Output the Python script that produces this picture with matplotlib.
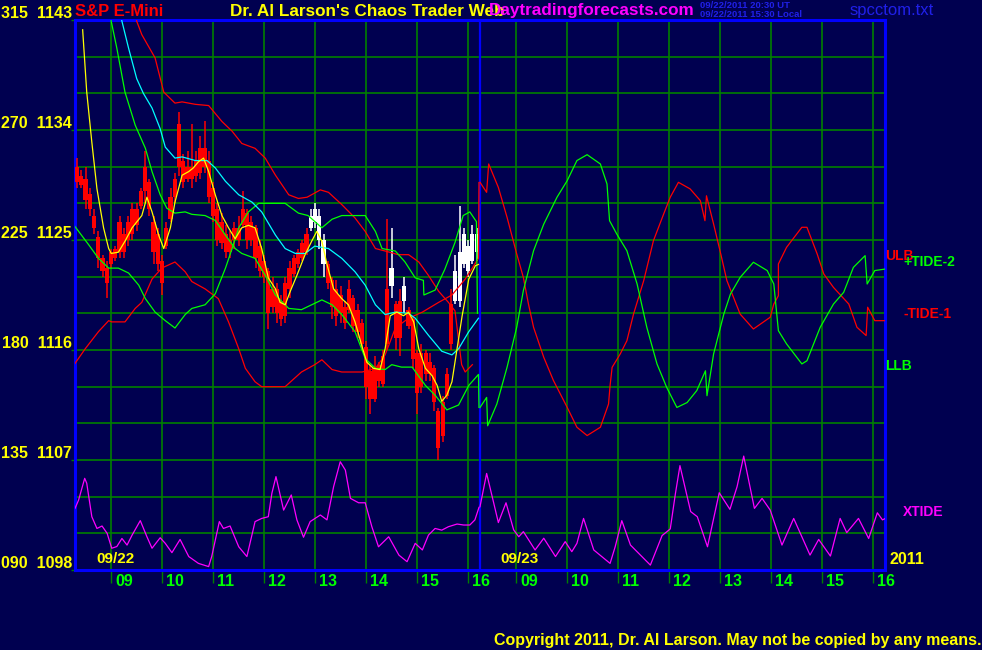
import matplotlib.pyplot as plt
import numpy as np

plt.rcParams['font.family'] = ['Liberation Sans', 'DejaVu Sans']

# ---- chart data -------------------------------------------------------
# 5 minute bars of day 1 (09/22), first bar at 8:20
bar_high = [1131.75, 1130.75, 1131.0, 1129.25, 1127.5, 1125.75, 1123.75, 1123.25, 1124.25, 1124.5,
            1127.0, 1126.0, 1127.0, 1128.0, 1128.0, 1129.25, 1132.25, 1130.0, 1127.0, 1126.0,
            1123.75, 1126.5, 1129.25, 1130.5, 1135.5, 1132.0, 1132.25, 1134.5, 1132.25, 1133.5,
            1134.75, 1132.25, 1129.75, 1128.0, 1127.25, 1126.25, 1125.75, 1126.5, 1127.0, 1129.0,
            1127.5, 1127.0, 1126.25, 1125.0, 1123.75, 1122.75, 1122.0, 1121.5, 1120.5, 1122.0,
            1123.25, 1123.75, 1124.25, 1125.0, 1126.0, 1127.5, 1128.0, 1127.5, 1125.5, 1123.25,
            1122.0, 1121.75, 1121.25, 1120.0, 1121.75, 1120.5, 1119.75, 1118.5, 1116.75, 1114.75,
            1115.5, 1115.0, 1116.0, 1126.75, 1126.0, 1120.0, 1121.0, 1122.0, 1119.5, 1118.75,
            1116.0, 1116.5, 1116.0, 1115.75, 1114.75, 1111.25, 1112.25, 1114.5, 1121.0, 1123.75,
            1127.75, 1126.0, 1125.0, 1126.25, 1126.0]
bar_low = [1129.25, 1129.25, 1127.5, 1127.0, 1125.5, 1122.75, 1122.0, 1120.25, 1122.75, 1123.25,
           1123.5, 1123.5, 1124.5, 1125.0, 1125.75, 1127.5, 1128.0, 1127.0, 1123.0, 1122.5,
           1120.5, 1124.25, 1126.5, 1128.0, 1130.25, 1129.25, 1129.75, 1129.25, 1129.75, 1130.0,
           1130.5, 1128.0, 1126.5, 1124.5, 1124.25, 1123.5, 1123.5, 1124.25, 1124.5, 1126.0,
           1124.25, 1124.5, 1122.75, 1122.0, 1121.5, 1117.75, 1119.0, 1118.25, 1118.0, 1118.25,
           1120.25, 1122.0, 1122.75, 1123.25, 1123.75, 1125.75, 1126.0, 1124.25, 1122.0, 1121.0,
           1118.5, 1118.0, 1118.25, 1117.75, 1119.0, 1117.5, 1117.0, 1116.0, 1112.0, 1110.75,
           1111.75, 1113.0, 1113.0, 1116.0, 1120.25, 1116.0, 1115.5, 1119.0, 1117.75, 1114.5,
           1110.75, 1112.5, 1113.5, 1113.5, 1111.0, 1107.0, 1108.5, 1112.0, 1116.0, 1119.75,
           1119.5, 1122.75, 1122.0, 1123.0, 1123.25]
bar_open = [1131.0, 1130.25, 1130.0, 1128.75, 1127.0, 1125.25, 1123.5, 1122.75, 1123.0, 1123.5,
            1124.0, 1125.5, 1125.0, 1125.5, 1127.5, 1127.75, 1129.0, 1129.75, 1126.5, 1125.5,
            1123.25, 1124.5, 1126.75, 1128.5, 1134.5, 1131.5, 1130.0, 1131.0, 1130.25, 1130.5,
            1132.5, 1131.5, 1129.25, 1127.5, 1126.5, 1125.5, 1124.0, 1125.0, 1126.0, 1126.25,
            1127.25, 1125.0, 1126.0, 1124.5, 1123.25, 1122.5, 1121.0, 1121.0, 1120.0, 1118.75,
            1121.0, 1122.25, 1123.0, 1123.5, 1124.0, 1126.0, 1126.5, 1127.0, 1125.0, 1123.0,
            1121.75, 1121.0, 1120.5, 1119.5, 1119.25, 1120.25, 1119.25, 1118.25, 1116.25, 1114.25,
            1112.0, 1113.5, 1113.25, 1116.5, 1121.25, 1119.75, 1117.0, 1120.0, 1119.25, 1118.5,
            1115.75, 1113.0, 1115.75, 1114.0, 1114.5, 1111.0, 1109.0, 1112.25, 1116.5, 1120.0,
            1120.0, 1123.0, 1124.5, 1123.25, 1125.5]
bar_close = [1129.75, 1129.5, 1128.25, 1127.5, 1126.0, 1123.5, 1122.5, 1121.5, 1124.0, 1124.25,
             1126.5, 1124.0, 1126.5, 1127.5, 1126.25, 1129.0, 1131.0, 1127.5, 1124.0, 1123.0,
             1121.5, 1126.0, 1128.5, 1130.0, 1131.0, 1129.75, 1131.0, 1130.0, 1131.5, 1132.5,
             1131.0, 1128.5, 1127.0, 1125.0, 1124.75, 1124.0, 1125.0, 1126.0, 1125.0, 1127.5,
             1125.0, 1126.5, 1123.5, 1122.5, 1122.0, 1119.0, 1119.5, 1119.0, 1118.5, 1121.5,
             1122.75, 1123.5, 1124.0, 1124.75, 1125.5, 1127.0, 1127.5, 1125.0, 1123.0, 1121.5,
             1119.5, 1118.75, 1119.0, 1118.25, 1121.0, 1118.0, 1117.5, 1116.5, 1113.0, 1112.0,
             1114.5, 1114.75, 1115.5, 1121.0, 1122.75, 1117.0, 1120.0, 1121.25, 1118.0, 1115.25,
             1112.5, 1115.75, 1114.0, 1115.0, 1111.75, 1108.0, 1111.75, 1114.0, 1119.75, 1122.5,
             1124.0, 1125.5, 1122.5, 1125.5, 1124.0]
white_bars = [55, 56, 57, 58, 74, 77, 89, 90, 91, 92, 93, 94]

# day 1 indicator lines: (clock hour, price)
yellow_ma = [(8.44, 1142.2), (8.52, 1137.1), (8.62, 1133.0), (8.72, 1129.2), (8.85, 1126.0),
             (8.95, 1124.3), (9.0, 1123.9), (9.14, 1124.0), (9.27, 1124.9), (9.41, 1126.0),
             (9.6, 1127.0), (9.7, 1128.5), (9.8, 1127.3), (9.93, 1125.4), (10.03, 1124.3),
             (10.16, 1126.0), (10.25, 1128.1), (10.39, 1130.3), (10.52, 1130.6), (10.61, 1130.9),
             (10.71, 1131.4), (10.81, 1131.7), (10.91, 1130.6), (11.04, 1128.7), (11.17, 1127.0),
             (11.3, 1126.0), (11.43, 1125.1), (11.56, 1126.0), (11.69, 1126.2), (11.82, 1126.0),
             (11.95, 1124.3), (12.08, 1121.9), (12.22, 1121.0), (12.31, 1119.9), (12.41, 1119.7),
             (12.51, 1120.8), (12.64, 1122.1), (12.8, 1123.8), (12.93, 1124.9), (13.03, 1125.7),
             (13.13, 1124.9), (13.23, 1123.0), (13.36, 1121.0), (13.52, 1120.2), (13.65, 1119.7),
             (13.78, 1118.3), (13.91, 1116.4), (14.01, 1115.0), (14.14, 1114.5), (14.27, 1114.4),
             (14.37, 1116.1), (14.47, 1118.8), (14.6, 1119.1), (14.73, 1118.8), (14.83, 1119.1),
             (14.93, 1118.3), (15.03, 1116.1), (15.16, 1114.5), (15.29, 1113.9), (15.39, 1113.1),
             (15.48, 1111.8), (15.58, 1112.3), (15.68, 1113.4), (15.78, 1116.1), (15.88, 1118.8),
             (16.01, 1121.8), (16.14, 1122.9), (16.2, 1123.0)]
cyan_ma = [(9.1, 1145.0), (9.21, 1142.9), (9.34, 1140.7), (9.5, 1138.2), (9.63, 1137.0),
           (9.8, 1135.8), (9.96, 1134.1), (10.06, 1132.6), (10.25, 1131.7), (10.39, 1131.8),
           (10.65, 1131.5), (10.88, 1131.5), (11.04, 1130.9), (11.24, 1129.8), (11.5, 1128.7),
           (11.76, 1128.1), (11.95, 1127.3), (12.22, 1125.4), (12.41, 1124.3), (12.61, 1123.9),
           (12.8, 1123.9), (12.99, 1124.5), (13.26, 1124.3), (13.52, 1123.5), (13.78, 1122.4),
           (13.98, 1121.3), (14.18, 1119.7), (14.37, 1118.9), (14.57, 1119.1), (14.83, 1119.0),
           (14.96, 1118.6), (15.22, 1117.2), (15.48, 1115.9), (15.68, 1115.6), (15.81, 1116.1),
           (16.01, 1117.5), (16.2, 1118.6)]
red_upper = [(9.4, 1145.5), (9.5, 1142.9), (9.6, 1141.8), (9.86, 1139.9), (10.03, 1137.1),
             (10.25, 1136.2), (10.39, 1136.3), (10.65, 1136.1), (10.91, 1136.0), (11.17, 1134.7),
             (11.37, 1133.9), (11.56, 1132.9), (11.82, 1132.5), (12.02, 1131.7), (12.22, 1130.3),
             (12.48, 1128.7), (12.67, 1128.4), (12.84, 1128.5), (13.1, 1129.1), (13.26, 1128.9),
             (13.52, 1127.9), (13.78, 1126.8), (13.98, 1125.7), (14.18, 1124.3), (14.37, 1124.1),
             (14.63, 1123.8), (14.83, 1123.8), (15.03, 1123.2), (15.22, 1122.1), (15.42, 1120.8),
             (15.61, 1119.9), (15.74, 1119.2), (15.87, 1114.8), (15.94, 1114.2), (16.08, 1114.8)]
red_lower = [(8.29, 1114.9), (8.49, 1116.1), (8.75, 1117.5), (8.95, 1118.4), (9.01, 1118.3),
             (9.27, 1118.3), (9.47, 1119.4), (9.6, 1119.9), (9.8, 1121.8), (9.99, 1122.7),
             (10.25, 1123.2), (10.45, 1122.4), (10.58, 1121.6), (10.84, 1121.0), (11.1, 1120.2),
             (11.3, 1118.3), (11.5, 1116.1), (11.63, 1114.5), (11.82, 1113.4), (11.95, 1113.0),
             (12.41, 1113.0), (12.73, 1114.2), (12.99, 1114.8), (13.13, 1115.2), (13.33, 1114.4),
             (13.52, 1114.2), (13.92, 1114.2), (14.18, 1114.5), (14.37, 1115.6), (14.57, 1117.8),
             (14.83, 1118.6), (15.1, 1119.1), (15.42, 1119.9), (15.68, 1120.5), (15.94, 1121.8),
             (16.2, 1123.5), (16.21, 1129.7)]
green_upper = [(8.9, 1145.0), (9.0, 1142.9), (9.11, 1140.7), (9.27, 1137.1), (9.47, 1134.4),
               (9.67, 1132.5), (9.8, 1130.6), (9.96, 1128.7), (10.09, 1127.6), (10.25, 1127.2),
               (10.45, 1127.3), (10.58, 1127.1), (10.84, 1127.0), (11.04, 1126.6), (11.24, 1125.4),
               (11.43, 1124.3), (11.56, 1123.9), (11.82, 1123.5), (12.02, 1122.1), (12.22, 1120.5),
               (12.48, 1119.4), (12.73, 1119.3), (12.93, 1119.7), (13.13, 1120.1), (13.33, 1119.7),
               (13.52, 1118.9), (13.78, 1117.5), (13.98, 1115.3), (14.18, 1114.5), (14.37, 1114.4),
               (14.5, 1114.8), (14.69, 1114.6), (14.9, 1114.6), (15.16, 1113.1), (15.35, 1112.3),
               (15.58, 1111.1), (15.81, 1111.5), (16.01, 1113.1), (16.2, 1114.0), (16.21, 1111.3)]
green_lower = [(8.29, 1126.1), (8.56, 1124.6), (8.75, 1123.5), (8.95, 1122.7), (9.14, 1122.7),
               (9.34, 1122.3), (9.54, 1121.3), (9.67, 1120.2), (9.86, 1119.1), (10.06, 1118.4),
               (10.25, 1117.8), (10.45, 1118.9), (10.58, 1119.4), (10.84, 1119.7), (11.04, 1120.6),
               (11.24, 1122.7), (11.37, 1124.3), (11.5, 1126.0), (11.69, 1127.3), (11.89, 1128.0),
               (12.41, 1128.0), (12.67, 1127.2), (12.86, 1127.0), (13.13, 1126.0), (13.33, 1126.7),
               (13.52, 1127.0), (13.98, 1127.0), (14.18, 1125.7), (14.31, 1124.3), (14.57, 1124.1),
               (14.76, 1123.2), (14.96, 1121.9), (15.12, 1121.7), (15.13, 1120.5), (15.35, 1120.9),
               (15.54, 1122.6), (15.74, 1124.8), (15.9, 1127.0), (16.03, 1127.3), (16.16, 1126.5),
               (16.18, 1119.0)]

# day 2 (09/23) tide forecasts, left scale units: (clock hour, value)
tide_minus1 = [(8.29, 248.6), (8.42, 244.5), (8.46, 256.1), (8.65, 246.5), (8.82, 234.3),
               (9.01, 219.3), (9.14, 209.7), (9.24, 198.8), (9.34, 189.3), (9.54, 177.0),
               (9.73, 167.5), (10.0, 156.5), (10.19, 148.4), (10.39, 145.0), (10.65, 148.4),
               (10.81, 157.9), (10.84, 165.4), (10.88, 172.9), (11.04, 178.4), (11.17, 183.8),
               (11.3, 194.7), (11.5, 208.4), (11.69, 224.7), (11.89, 235.6), (12.02, 242.5),
               (12.18, 248.6), (12.41, 245.9), (12.61, 241.1), (12.7, 232.9), (12.73, 243.1),
               (12.87, 231.5), (13.01, 219.3), (13.13, 208.4), (13.39, 194.7), (13.65, 188.6),
               (13.98, 193.4), (14.05, 198.8), (14.14, 202.2), (14.14, 215.2), (14.3, 222.0),
               (14.6, 230.2), (14.7, 230.2), (14.9, 219.3), (15.03, 211.1), (15.22, 205.6),
               (15.52, 198.8), (15.68, 189.3), (15.86, 185.9), (15.89, 197.5), (16.03, 192.0),
               (16.23, 192.0)]
tide_plus2 = [(8.29, 156.5), (8.42, 160.6), (8.44, 149.0), (8.62, 157.9), (8.82, 172.9),
              (9.01, 189.3), (9.14, 204.3), (9.34, 220.6), (9.54, 231.5), (9.8, 242.5),
              (10.0, 249.3), (10.19, 257.5), (10.39, 259.9), (10.65, 256.1), (10.78, 247.9),
              (10.83, 232.9), (10.97, 227.5), (11.17, 220.6), (11.37, 207.0), (11.56, 189.3),
              (11.76, 174.3), (11.95, 164.7), (12.15, 156.5), (12.35, 158.5), (12.54, 163.4),
              (12.71, 171.5), (12.74, 161.3), (12.87, 178.4), (13.07, 194.7), (13.2, 202.9),
              (13.39, 209.7), (13.65, 215.9), (13.92, 212.5), (14.05, 207.0), (14.14, 187.9),
              (14.3, 182.5), (14.6, 174.3), (14.7, 175.6), (14.96, 189.3), (15.22, 198.8),
              (15.42, 203.6), (15.61, 213.8), (15.84, 218.6), (15.88, 207.0), (16.03, 212.5),
              (16.23, 213.1)]
xtide_day1 = [(8.29, 115.2), (8.36, 118.6), (8.48, 127.5), (8.52, 125.5), (8.62, 111.8),
              (8.72, 107.0), (8.82, 108.0), (8.92, 105.0), (9.01, 98.9), (9.11, 99.6),
              (9.21, 102.9), (9.31, 100.2), (9.41, 104.3), (9.57, 110.2), (9.7, 103.6),
              (9.8, 98.9), (9.96, 103.2), (10.06, 100.9), (10.19, 97.1), (10.35, 102.5),
              (10.52, 95.5), (10.71, 92.7), (10.91, 91.4), (10.97, 95.5), (11.12, 109.8),
              (11.2, 107.0), (11.33, 108.0), (11.5, 99.5), (11.66, 95.5), (11.82, 109.8),
              (11.95, 111.1), (12.08, 111.8), (12.15, 121.4), (12.23, 128.2), (12.38, 114.5),
              (12.53, 120.7), (12.64, 110.5), (12.77, 103.4), (12.9, 109.8), (13.1, 112.5),
              (13.23, 110.5), (13.36, 124.1), (13.49, 134.3), (13.59, 130.9), (13.69, 119.3),
              (13.85, 117.5), (13.98, 117.5), (14.11, 107.7), (14.24, 99.5), (14.44, 103.6),
              (14.64, 96.1), (14.8, 93.4), (14.96, 100.9), (15.1, 98.2), (15.22, 104.3),
              (15.35, 107.0), (15.48, 106.3), (15.61, 107.7), (15.78, 108.8), (15.91, 108.4),
              (16.03, 108.4), (16.13, 110.5), (16.21, 115.6)]
xtide_day2 = [(8.29, 115.9), (8.42, 129.5), (8.56, 117.3), (8.65, 109.4), (8.8, 117.5),
              (8.95, 106.4), (9.05, 103.6), (9.14, 105.7), (9.37, 98.2), (9.54, 103.0),
              (9.77, 95.5), (9.96, 101.6), (10.09, 97.5), (10.19, 100.9), (10.32, 111.1),
              (10.52, 98.2), (10.84, 92.7), (10.94, 99.5), (11.07, 110.2), (11.24, 100.2),
              (11.63, 92.0), (11.86, 104.1), (12.02, 106.8), (12.12, 121.1), (12.21, 132.7),
              (12.42, 113.9), (12.55, 111.8), (12.75, 99.5), (12.98, 121.6), (13.19, 114.8),
              (13.33, 124.1), (13.46, 136.6), (13.67, 115.2), (13.82, 119.3), (13.98, 114.5),
              (14.21, 100.2), (14.44, 111.1), (14.76, 96.1), (14.93, 102.5), (15.16, 95.7),
              (15.35, 111.1), (15.48, 105.3), (15.71, 111.1), (15.91, 102.9), (16.08, 113.4),
              (16.18, 110.5), (16.24, 111.1)]

price_labels = [1098, 1107, 1116, 1125, 1134, 1143]
left_labels = ['090', '135', '180', '225', '270', '315']
hours = [9, 10, 11, 12, 13, 14, 15, 16]

# ---- layout helpers ---------------------------------------------------
SESSION_START = 8.29
DAY_LEN = 7.94
BG = '#000050'
GRID = '#008000'
BLUE = '#0000ff'


def xpos(clock, day=0):
    return np.asarray(clock, dtype=float) - SESSION_START + day * DAY_LEN


def left_to_price(v):
    return 1098 + (np.asarray(v, dtype=float) - 90) / 5.0


def plot_series(ax, pairs, color, day=0, left_scale=False, lw=0.9):
    t, v = zip(*pairs)
    y = left_to_price(v) if left_scale else np.asarray(v)
    ax.plot(xpos(t, day), y, color=color, lw=lw, zorder=4)


W, H = 982, 650
fig = plt.figure(figsize=(W / 100, H / 100), dpi=100, facecolor=BG)
ax = fig.add_axes([75 / W, 80 / H, 810 / W, 550 / H], facecolor=BG)
ax.set_xlim(0, 2 * DAY_LEN)
ax.set_ylim(1098, 1143)

for s in ax.spines.values():
    s.set_color(BLUE)
    s.set_linewidth(2.2)

# grid
for p in range(1101, 1141, 3):
    ax.axhline(p, color=GRID, lw=1.2, zorder=1)
hour_x = [xpos(h, d) for d in (0, 1) for h in hours]
for x in hour_x:
    ax.axvline(x, color=GRID, lw=1.2, zorder=1)
ax.axvline(DAY_LEN, color=BLUE, lw=1.6, zorder=2)

ax.set_xticks(hour_x)
ax.set_yticks(price_labels)
ax.tick_params(axis='x', length=9, width=1, color=GRID, labelbottom=False)
ax.tick_params(axis='y', length=3, width=1, color=GRID, labelleft=False)

# price bars
bar_t = xpos(8.33 + np.arange(len(bar_high)) / 12.0)
cols = ['white' if i in white_bars else 'red' for i in range(len(bar_high))]
ax.vlines(bar_t, bar_low, bar_high, colors=cols, lw=1.1, zorder=3)
bot = np.minimum(bar_open, bar_close)
hgt = np.abs(np.array(bar_open) - np.array(bar_close))
ax.bar(bar_t, hgt, bottom=bot, width=0.082, color=cols, lw=0, zorder=3)

# indicator lines
plot_series(ax, red_upper, 'red')
plot_series(ax, red_lower, 'red')
plot_series(ax, green_upper, '#00ff00')
plot_series(ax, green_lower, '#00ff00')
plot_series(ax, cyan_ma, 'cyan')
plot_series(ax, yellow_ma, 'yellow')
plot_series(ax, tide_minus1, 'red', day=1, left_scale=True)
plot_series(ax, tide_plus2, '#00ff00', day=1, left_scale=True)
plot_series(ax, xtide_day1, '#ff00ff', day=0, left_scale=True)
plot_series(ax, xtide_day2, '#ff00ff', day=1, left_scale=True)

# ---- texts ------------------------------------------------------------
def ftext(px, py, s, color, size, ha='left', va='center', weight='bold', **kw):
    fig.text(px / W, 1 - py / H, s, color=color, fontsize=size, ha=ha, va=va,
             fontweight=weight, **kw)


for p, lab in zip(price_labels, left_labels):
    py = 570 - (p - 1098) * 550 / 45
    ftext(72, py + 1, lab + '  ' + str(p), 'yellow', 11.5, ha='right', va='bottom')

for d in (0, 1):
    for h in hours:
        px = 75 + xpos(h, d) * 51
        ftext(px + 4, 581, '%02d' % h, '#00ff00', 11.5)

ftext(96, 559, '09/22', 'yellow', 11)
ftext(500, 559, '09/23', 'yellow', 11)
ftext(890, 559, '2011', 'yellow', 11.5)

ftext(75, 11, 'S&P E-Mini', 'red', 12)
ftext(230, 11, "Dr. Al Larson's Chaos Trader Web", 'yellow', 12.3)
ftext(489, 11, 'Daytradingforecasts.com', '#ff00ff', 12.3)
ftext(700, 5.5, '09/22/2011 20:30 UT', '#2020e8', 6.8)
ftext(700, 14.5, '09/22/2011 15:30 Local', '#2020e8', 6.8)
ftext(850, 10, 'spcctom.txt', '#2020e8', 12, weight='normal')

ftext(885, 256, 'ULB', 'red', 10)
ftext(903, 262, '+TIDE-2', '#00ff00', 10)
ftext(903, 314, '-TIDE-1', 'red', 10)
ftext(885, 366, 'LLB', '#00ff00', 10)
ftext(903, 512, 'XTIDE', '#ff00ff', 10)

ftext(981, 640, 'Copyright 2011, Dr. Al Larson. May not be copied by any means.',
      'yellow', 11.5, ha='right')

fig.savefig('out.png', dpi=100, facecolor=BG)
